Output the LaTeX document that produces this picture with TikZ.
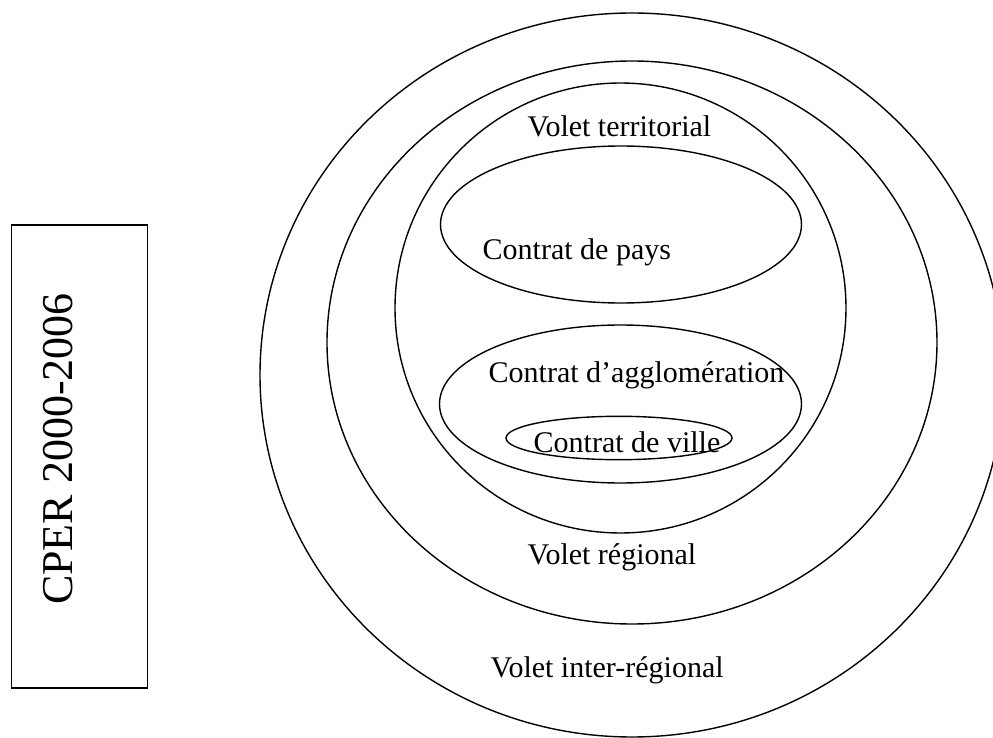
\documentclass[tikz,border=0pt]{standalone}
\usepackage{fontspec}
\setmainfont{Liberation Serif}
\usetikzlibrary{positioning}

\begin{document}
\begin{tikzpicture}[x=0.5pt,y=-0.5pt,line width=0.7pt]
  \tikzstyle{lbl}=[anchor=base west,inner sep=0pt,font=\fontsize{15}{18}\selectfont]
  \useasboundingbox (0,0) rectangle (993,738);
  % nested areas: inter-regional, regional, territorial, pays, agglo, ville
  \foreach \cx/\cy/\rx/\ry in {632/375/372/362, 632/342.5/305/281.5,
      620.5/308/225.5/225, 621/224.5/180.5/78.5, 620.5/404/181/79, 619/438/113/21.7}
    \draw (\cx,\cy) ellipse [x radius=\rx,y radius=\ry];
  \node[lbl] (terr) at (527,137) {Volet territorial};
  \node[lbl] (pays) at (482,260) {Contrat de pays};
  \node[lbl] (agglo) at (488,383) {Contrat d’agglomération};
  \node[lbl] (ville) at (533,452) {Contrat de ville};
  \node[lbl] (reg) at (527,565) {Volet régional};
  \node[lbl] (inter) at (490,677) {Volet inter-régional};
  % period box
  \draw (11.7,225) rectangle (147.3,688);
  \node[rotate=90,inner sep=0pt,font=\fontsize{22}{26}\selectfont] (cper) at (58,449) {CPER 2000-2006};
\end{tikzpicture}
\end{document}
